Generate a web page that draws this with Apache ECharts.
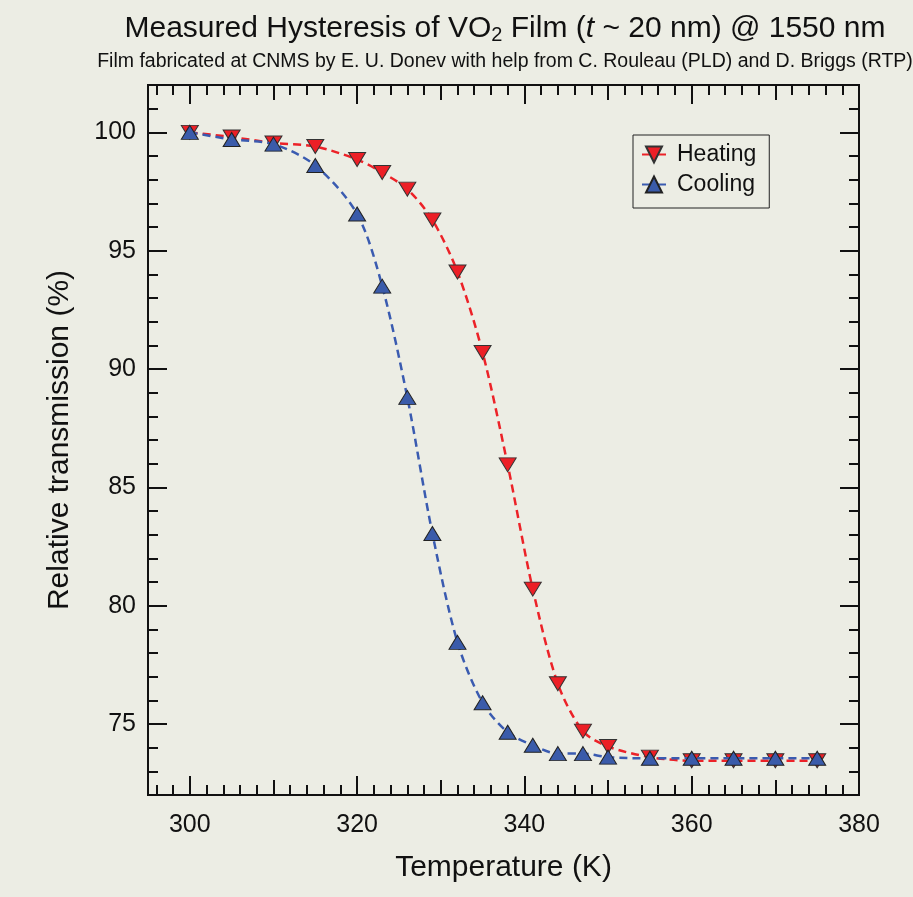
<!DOCTYPE html>
<html>
<head>
<meta charset="utf-8">
<script src="https://cdn.jsdelivr.net/npm/echarts@6/dist/echarts.min.js"></script>
<style>
  html, body { margin: 0; padding: 0; background: #ECEDE4; }
  #chart { width: 913px; height: 897px; }
</style>
</head>
<body>
<div id="chart"></div>
<script>
// Temperatures (K) at which transmission was sampled
const temperature = [300, 305, 310, 315, 320, 323, 326, 329, 332, 335, 338, 341, 344, 347, 350, 355, 360, 365, 370, 375];
// Relative transmission (%) on the heating sweep
const heating = [100.0, 99.8, 99.55, 99.4, 98.85, 98.3, 97.6, 96.3, 94.1, 90.7, 85.95, 80.7, 76.7, 74.7, 74.05, 73.6, 73.45, 73.45, 73.45, 73.45];
// Relative transmission (%) on the cooling sweep
const cooling = [100.0, 99.7, 99.5, 98.6, 96.55, 93.5, 88.8, 83.05, 78.45, 75.9, 74.65, 74.1, 73.75, 73.75, 73.6, 73.55, 73.55, 73.55, 73.55, 73.55];

// Tick positions
const xMajorTicks = [300, 320, 340, 360, 380];
const xMidTicks = [310, 330, 350, 370];
const xMinorTicks = [296, 298, 302, 304, 306, 308, 312, 314, 316, 318, 322, 324, 326, 328, 332, 334, 336, 338, 342, 344, 346, 348, 352, 354, 356, 358, 362, 364, 366, 368, 372, 374, 376, 378];
const yMajorTicks = [75, 80, 85, 90, 95, 100];
const yMinorTicks = [73, 74, 76, 77, 78, 79, 81, 82, 83, 84, 86, 87, 88, 89, 91, 92, 93, 94, 96, 97, 98, 99, 101];

const FONT = 'Liberation Sans, Arial, Helvetica, sans-serif';
const INK = '#111';
const BG = '#ECEDE4';

function xAxisDef(position, ticks, len, withLabels) {
  return {
    type: 'value', position: position, min: 295, max: 380,
    axisLine: { show: true, onZero: false, lineStyle: { color: INK, width: 2 } },
    axisTick: { show: true, inside: true, length: len, customValues: ticks, lineStyle: { color: INK, width: 2 } },
    axisLabel: withLabels
      ? { show: true, customValues: ticks, fontSize: 25, color: INK, fontFamily: FONT, margin: 18 }
      : { show: false },
    splitLine: { show: false }
  };
}
function yAxisDef(position, ticks, len, withLabels) {
  return {
    type: 'value', position: position, min: 72, max: 102,
    axisLine: { show: true, onZero: false, lineStyle: { color: INK, width: 2 } },
    axisTick: { show: true, inside: true, length: len, customValues: ticks, lineStyle: { color: INK, width: 2 } },
    axisLabel: withLabels
      ? { show: true, customValues: ticks, fontSize: 25, color: INK, fontFamily: FONT, margin: 12 }
      : { show: false },
    splitLine: { show: false }
  };
}

const xAxes = [
  Object.assign(xAxisDef('bottom', xMajorTicks, 19, true), {
    name: 'Temperature (K)', nameLocation: 'middle', nameGap: 58,
    nameTextStyle: { fontSize: 30, color: INK, fontFamily: FONT }
  }),
  xAxisDef('bottom', xMidTicks, 15, false),
  xAxisDef('bottom', xMinorTicks, 10, false),
  xAxisDef('top', xMajorTicks, 19, false),
  xAxisDef('top', xMidTicks, 15, false),
  xAxisDef('top', xMinorTicks, 10, false)
];
const yAxes = [
  Object.assign(yAxisDef('left', yMajorTicks, 19, true), {
    name: 'Relative transmission (%)', nameLocation: 'middle', nameGap: 73,
    nameTextStyle: { fontSize: 30, color: INK, fontFamily: FONT }
  }),
  yAxisDef('left', yMinorTicks, 10, false),
  yAxisDef('right', yMajorTicks, 19, false),
  yAxisDef('right', yMinorTicks, 10, false)
];

function pairs(xs, ys) { return xs.map((x, i) => [x, ys[i]]); }

const chart = echarts.init(document.getElementById('chart'), null, { renderer: 'canvas' });
chart.setOption({
  backgroundColor: BG,
  animation: false,
  title: [
    {
      left: 505, top: 13, padding: 0, textAlign: 'center',
      text: 'Measured Hysteresis of VO{sub|2} Film ({it|t} ~ 20 nm) @ 1550 nm',
      textStyle: {
        fontSize: 30, fontWeight: 'normal', color: INK, fontFamily: FONT, lineHeight: 32,
        rich: {
          sub: { fontSize: 20, lineHeight: 10, verticalAlign: 'bottom', color: INK, fontFamily: FONT },
          it: { fontSize: 30, fontStyle: 'italic', color: INK, fontFamily: FONT, lineHeight: 32 }
        }
      }
    },
    {
      left: 505, top: 52, padding: 0, textAlign: 'center',
      text: 'Film fabricated at CNMS by E. U. Donev with help from C. Rouleau (PLD) and D. Briggs (RTP)',
      textStyle: { fontSize: 19.5, fontWeight: 'normal', color: INK, fontFamily: FONT }
    }
  ],
  grid: { left: 148, right: 54, top: 85, bottom: 102, containLabel: false },
  legend: {
    orient: 'vertical', left: 633, top: 135,
    padding: [8, 13, 12, 8], itemGap: 7,
    itemWidth: 24, itemHeight: 20,
    borderColor: '#222', borderWidth: 1, backgroundColor: BG,
    lineStyle: { type: 'solid', width: 2 },
    textStyle: { fontSize: 23, color: INK, fontFamily: FONT, padding: [0, 0, 0, 6] },
    data: ['Heating', 'Cooling']
  },
  xAxis: xAxes,
  yAxis: yAxes,
  series: [
    {
      name: 'Heating', type: 'line', xAxisIndex: 0, yAxisIndex: 0,
      data: pairs(temperature, heating),
      smooth: 0.3,
      symbol: 'triangle', symbolRotate: 180, symbolSize: [17, 14],
      itemStyle: { color: '#EC1F26', borderColor: '#333', borderWidth: 1 },
      lineStyle: { color: '#EC2228', width: 2.5, type: [8, 5] },
      z: 2
    },
    {
      name: 'Cooling', type: 'line', xAxisIndex: 0, yAxisIndex: 0,
      data: pairs(temperature, cooling),
      smooth: 0.3,
      symbol: 'triangle', symbolSize: [17, 14],
      itemStyle: { color: '#3A5BAA', borderColor: '#222', borderWidth: 1 },
      lineStyle: { color: '#3A5BB0', width: 2.5, type: [8, 5] },
      z: 3
    }
  ]
});
</script>
</body>
</html>
